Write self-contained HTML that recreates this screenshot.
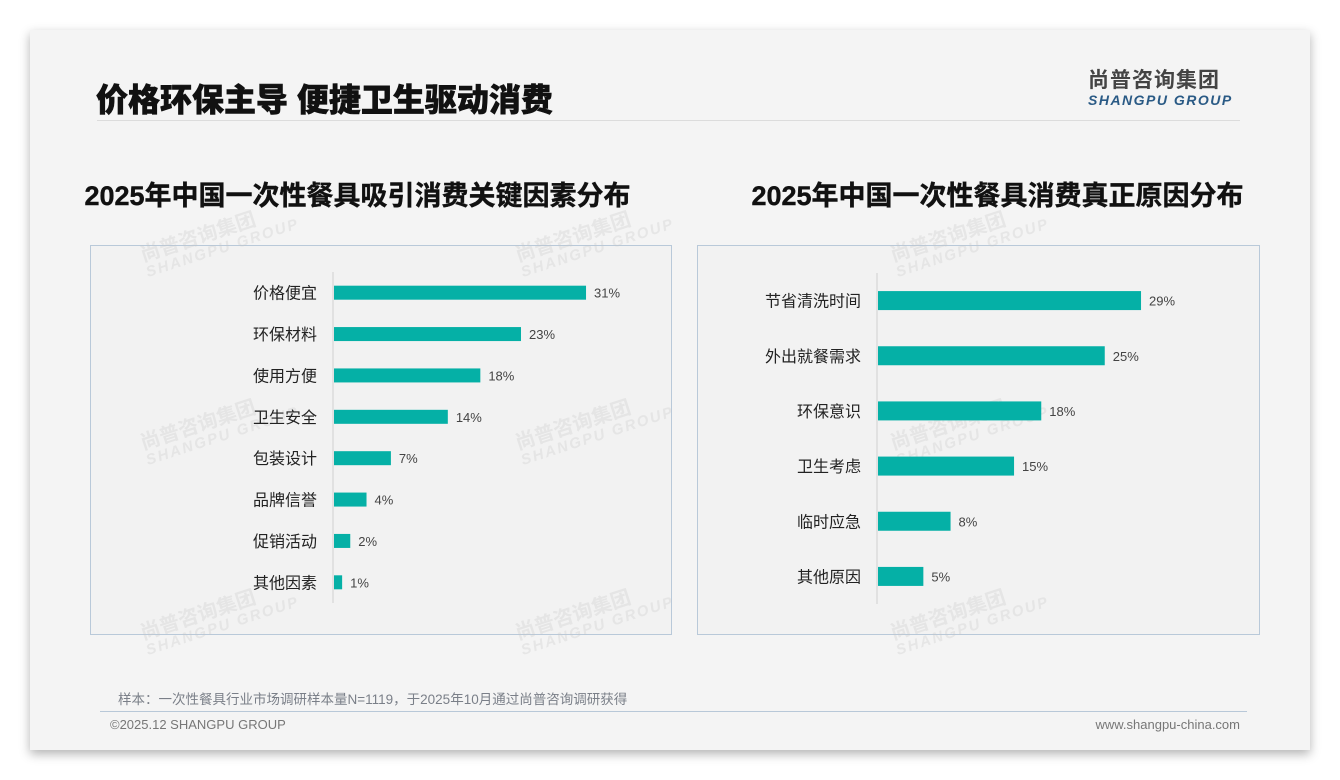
<!DOCTYPE html>
<html><head><meta charset="utf-8">
<style>
body{margin:0;width:1340px;height:780px;background:#fff;position:relative;overflow:hidden;font-family:"Liberation Sans","Noto Sans CJK SC",sans-serif}
.slide{position:absolute;left:30px;top:30px;width:1280px;height:720px;background:#f4f4f4;box-shadow:0 4px 10px rgba(0,0,0,.3)}
.abs{position:absolute}
.panel{position:absolute;background:#f2f2f2;border:1px solid #b9c9d9}
.wm{position:absolute;color:rgba(200,200,200,.3);font-weight:bold;transform:rotate(-18deg);font-size:20px;line-height:18px;white-space:nowrap}
.wm span{display:block;font-size:15px;font-style:italic;letter-spacing:2px}
</style></head><body>
<div class="slide"></div>
<div class="abs" style="left:96px;top:75px;font-size:32px;font-weight:900;color:#111;-webkit-text-stroke:0.6px #111">价格环保主导 便捷卫生驱动消费</div>
<div class="abs" style="left:97px;top:120px;width:1143px;height:1px;background:#dcdcdc"></div>
<div class="abs" style="left:1088px;top:64px;text-align:left">
<div style="font-size:21px;font-weight:bold;color:#444;letter-spacing:1px">尚普咨询集团</div>
<div style="font-size:14px;font-weight:bold;font-style:italic;color:#2a5a85;letter-spacing:1.5px;margin-top:-2px">SHANGPU GROUP</div></div>

<div class="abs" style="left:40px;width:635px;top:174px;text-align:center;font-size:27px;font-weight:bold;color:#111;-webkit-text-stroke:0.4px #111">2025年中国一次性餐具吸引消费关键因素分布</div>
<div class="abs" style="left:680px;width:635px;top:174px;text-align:center;font-size:27px;font-weight:bold;color:#111;-webkit-text-stroke:0.4px #111">2025年中国一次性餐具消费真正原因分布</div>

<div class="panel" style="left:90px;top:245px;width:580px;height:388px"></div>
<div class="panel" style="left:697px;top:245px;width:561px;height:388px"></div>

<div class="wm" style="left:140px;top:222px">尚普咨询集团<span>SHANGPU GROUP</span></div>
<div class="wm" style="left:515px;top:222px">尚普咨询集团<span>SHANGPU GROUP</span></div>
<div class="wm" style="left:890px;top:222px">尚普咨询集团<span>SHANGPU GROUP</span></div>
<div class="wm" style="left:140px;top:410px">尚普咨询集团<span>SHANGPU GROUP</span></div>
<div class="wm" style="left:515px;top:410px">尚普咨询集团<span>SHANGPU GROUP</span></div>
<div class="wm" style="left:890px;top:410px">尚普咨询集团<span>SHANGPU GROUP</span></div>
<div class="wm" style="left:140px;top:600px">尚普咨询集团<span>SHANGPU GROUP</span></div>
<div class="wm" style="left:515px;top:600px">尚普咨询集团<span>SHANGPU GROUP</span></div>
<div class="wm" style="left:890px;top:600px">尚普咨询集团<span>SHANGPU GROUP</span></div>

<svg class="abs" style="left:0;top:0" width="1340" height="780" id="charts"></svg>

<div class="abs" style="left:118px;top:688px;font-size:13.5px;color:#7a7f88">样本：一次性餐具行业市场调研样本量N=1119，于2025年10月通过尚普咨询调研获得</div>
<div class="abs" style="left:100px;top:711px;width:1147px;height:1px;background:#b8c8d8"></div>
<div class="abs" style="left:110px;top:717px;font-size:13px;color:#777">©2025.12 SHANGPU GROUP</div>
<div class="abs" style="left:1000px;width:240px;text-align:right;top:717px;font-size:13px;color:#777">www.shangpu-china.com</div>

<script>
const leftCats=["价格便宜","环保材料","使用方便","卫生安全","包装设计","品牌信誉","促销活动","其他因素"];
const leftVals=[31,23,18,14,7,4,2,1];
const rightCats=["节省清洗时间","外出就餐需求","环保意识","卫生考虑","临时应急","其他原因"];
const rightVals=[29,25,18,15,8,5];
const NS="http://www.w3.org/2000/svg";
const svg=document.getElementById('charts');
function mk(tag,attrs){const e=document.createElementNS(NS,tag);for(const k in attrs)e.setAttribute(k,attrs[k]);svg.appendChild(e);return e;}
function chart(cats,vals,x0,yTop,yBot,pxPer,barH,prefix){
  const axis=mk('line',{x1:x0,x2:x0,y1:yTop,y2:yBot,stroke:'#d0d0d0','stroke-width':1});
  
  
  const step=(yBot-yTop)/cats.length;
  cats.forEach((c,i)=>{
    const cy=yTop+step*(i+0.5);
    const w=vals[i]*pxPer;
    const r=mk('rect',{x:x0+1,y:cy-barH/2,width:w,height:barH,fill:'#05b0a6'});
    
    
    const t=mk('text',{x:x0-16,y:cy+6,'text-anchor':'end','font-size':16,fill:'#222','font-family':'Liberation Sans, Noto Sans CJK SC, sans-serif'});
    t.textContent=c;
    
    
    const v=mk('text',{x:x0+w+9,y:cy+5,'font-size':13,fill:'#444','font-family':'Liberation Sans, sans-serif'});
    v.textContent=vals[i]+'%';
    
    
  });
}
chart(leftCats,leftVals,333,272,603,8.13,14,'left');
chart(rightCats,rightVals,877,273,604,9.07,19,'right');
</script>
</body></html>
